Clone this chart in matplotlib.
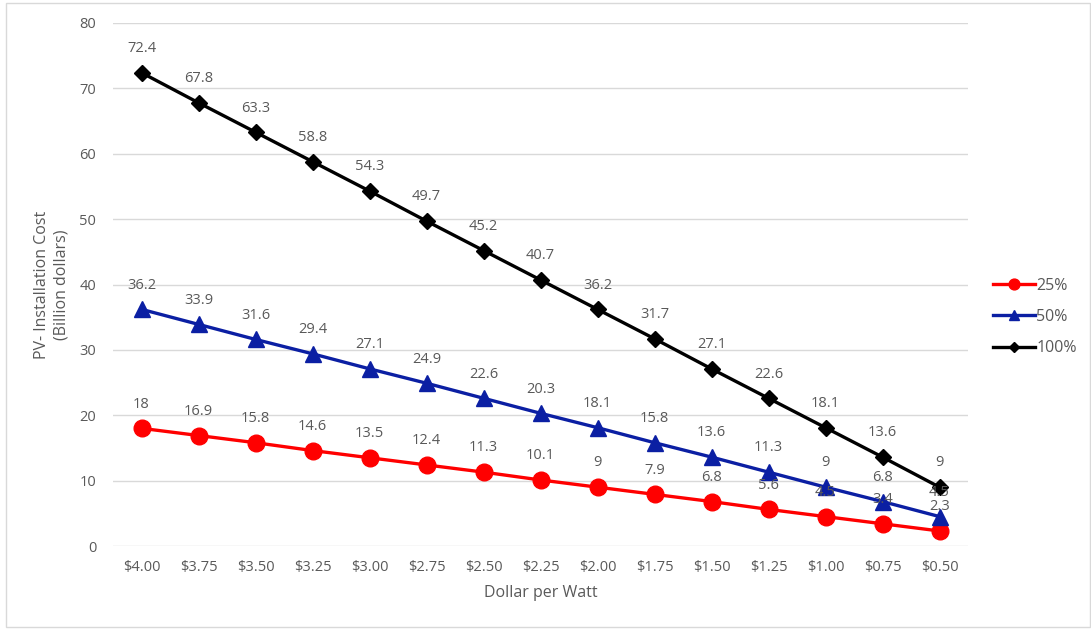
import matplotlib.pyplot as plt
from matplotlib.patches import Rectangle

plt.rcParams['font.family'] = ['Open Sans', 'DejaVu Sans']

prices = ["$4.00", "$3.75", "$3.50", "$3.25", "$3.00", "$2.75", "$2.50", "$2.25",
          "$2.00", "$1.75", "$1.50", "$1.25", "$1.00", "$0.75", "$0.50"]
cost_25 = [18, 16.9, 15.8, 14.6, 13.5, 12.4, 11.3, 10.1, 9, 7.9, 6.8, 5.6, 4.5, 3.4, 2.3]
cost_50 = [36.2, 33.9, 31.6, 29.4, 27.1, 24.9, 22.6, 20.3, 18.1, 15.8, 13.6, 11.3, 9, 6.8, 4.5]
cost_100 = [72.4, 67.8, 63.3, 58.8, 54.3, 49.7, 45.2, 40.7, 36.2, 31.7, 27.1, 22.6, 18.1, 13.6, 9]
yticks = [0, 10, 20, 30, 40, 50, 60, 70, 80]

W, H = 1091, 629
fig = plt.figure(figsize=(W / 100, H / 100), dpi=100)
ax = fig.add_axes([113 / W, 1 - 546 / H, (968 - 113) / W, (546 - 23) / H])

text_color = '#595959'
x = list(range(len(prices)))

series = [
    ("25%", cost_25, '#FF0000', 'o', 12),
    ("50%", cost_50, '#0B1FA3', '^', 12),
    ("100%", cost_100, '#000000', 'D', 8.5),
]
for name, vals, color, marker, ms in series:
    ax.plot(x, vals, color=color, lw=2.4, marker=marker, markersize=ms,
            label=name, zorder=3)
    for xi, v in zip(x, vals):
        ax.annotate(f"{v:g}", (xi, v), xytext=(0, 12), textcoords='offset points',
                    ha='center', va='bottom', fontsize=10.5, color=text_color, zorder=4)

ax.set_xlim(-0.5, len(prices) - 0.5)
ax.set_ylim(0, 80)
ax.set_yticks(yticks)
ax.set_xticks(x)
ax.set_xticklabels(prices)
ax.grid(axis='y', color='#D9D9D9', lw=1)
ax.set_axisbelow(True)
for s in ax.spines.values():
    s.set_visible(False)
ax.tick_params(length=0, labelsize=10.5, colors=text_color, pad=10)
ax.tick_params(axis='y', pad=12)

ax.set_xlabel("Dollar per Watt", fontsize=11.5, color=text_color, labelpad=7)
ax.set_ylabel("PV- Installation Cost\n(Billion dollars)", fontsize=11.5,
              color=text_color, labelpad=7, linespacing=1.35)

leg = fig.legend(loc='center left', bbox_to_anchor=(993 / W, 1 - 317 / H),
                 frameon=False, fontsize=11.5, labelcolor=text_color,
                 handlelength=2.6, labelspacing=0.95, handletextpad=0.1,
                 borderpad=0, borderaxespad=0, markerscale=0.65)

fig.patches.append(Rectangle((6 / W, 2 / H), 1 - 6 / W - 1 / W, 1 - 5 / H,
                             transform=fig.transFigure, fill=False,
                             edgecolor='#D9D9D9', lw=1))

fig.savefig("out.png", dpi=100)
